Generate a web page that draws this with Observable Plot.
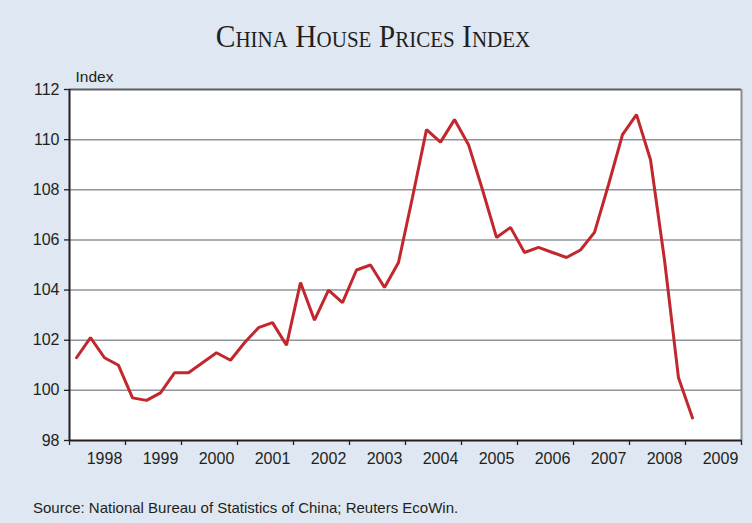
<!DOCTYPE html>
<html>
<head>
<meta charset="utf-8">
<script src="https://cdn.jsdelivr.net/npm/d3@7"></script>
<script src="https://cdn.jsdelivr.net/npm/@observablehq/plot@0.6"></script>
<style>
  html, body { margin: 0; padding: 0; background: #dfe7f2; }
  #wrap { width: 752px; height: 523px; background: #dfe7f2; position: relative; overflow: hidden; }
  #title { height: 60px; text-align: center; font-family: "Liberation Serif", "Times New Roman", serif;
           font-variant: small-caps; font-size: 29.5px; line-height: 28px; box-sizing: border-box;
           color: #231f20; padding-right: 6px; }
  #title span { position: relative; top: 22px; display: inline-block; transform: scaleY(1.05); }
  #caption { font-family: "Liberation Sans", Arial, sans-serif; font-size: 15px; color: #231f20;
             padding-left: 33px; padding-top: 19px; }
  svg { display: block; }
</style>
</head>
<body>
<div id="wrap">
  <div id="title"><span>China House Prices Index</span></div>
  <div id="chart"></div>
  <div id="caption">Source: National Bureau of Statistics of China; Reuters EcoWin.</div>
</div>
<script>
// Quarterly index, 1998 Q1 .. 2009 Q1
const startYear = 1998;
const values = [
  101.3, 102.1, 101.3, 101.0,   // 1998
  99.7, 99.6, 99.9, 100.7,      // 1999
  100.7, 101.1, 101.5, 101.2,   // 2000
  101.9, 102.5, 102.7, 101.8,   // 2001
  104.3, 102.8, 104.0, 103.5,   // 2002
  104.8, 105.0, 104.1, 105.1,   // 2003
  107.7, 110.4, 109.9, 110.8,   // 2004
  109.8, 108.0, 106.1, 106.5,   // 2005
  105.5, 105.7, 105.5, 105.3,   // 2006
  105.6, 106.3, 108.2, 110.2,   // 2007
  111.0, 109.2, 105.2, 100.5,   // 2008
  98.9                          // 2009
];
const yearTicks = [1998, 1999, 2000, 2001, 2002, 2003, 2004, 2005, 2006, 2007, 2008, 2009, 2010];
const yearLabels = [1998, 1999, 2000, 2001, 2002, 2003, 2004, 2005, 2006, 2007, 2008, 2009];
const yTicks = [98, 100, 102, 104, 106, 108, 110, 112];
const yLabel = "Index";

const data = values.map((v, i) => ({
  t: startYear + Math.floor(i / 4) + ((i % 4) + 0.5) / 4,
  v
}));

const font = "'Liberation Sans', Arial, sans-serif";

const chart = Plot.plot({
  width: 752,
  height: 420,
  marginLeft: 69,
  marginRight: 11,
  marginTop: 29,
  marginBottom: 40,
  style: { background: "transparent", fontFamily: font, fontSize: "16px", color: "#231f20", overflow: "visible" },
  x: { domain: [1998, 2010], axis: null, label: null },
  y: { domain: [98, 112], axis: null, label: null },
  marks: [
    Plot.frame({ fill: "white", stroke: "none" }),
    Plot.gridY(yTicks.filter(d => d > 98 && d < 112), { stroke: "#8f949b", strokeOpacity: 1, strokeWidth: 1.5 }),
    Plot.ruleY([112], { stroke: "#5a5d61", strokeWidth: 2 }),
    Plot.ruleX([2010], { stroke: "#8a8d92", strokeWidth: 2 }),
    Plot.axisY(yTicks, { tickSize: 5, tickPadding: 5, stroke: "#231f20", strokeWidth: 1.3, fontSize: 16, fill: "#231f20", label: null }),
    Plot.axisX(yearTicks, { tickSize: 5, tickFormat: () => "", stroke: "#231f20", strokeWidth: 1.3, label: null }),
    Plot.text(yearLabels, { x: d => d + 0.5, frameAnchor: "bottom", dy: 23, dx: 7, text: d => String(d), fontSize: 16, fill: "#231f20" }),
    Plot.text([yLabel], { frameAnchor: "top-left", dx: 6, dy: -19, textAnchor: "start", fontSize: 15.5, fill: "#231f20" }),
    Plot.line(data, { x: "t", y: "v", stroke: "#c1272d", strokeWidth: 3, strokeLinejoin: "miter" }),
    Plot.ruleX([1998], { stroke: "#231f20", strokeWidth: 2 }),
    Plot.ruleY([98], { stroke: "#231f20", strokeWidth: 2 })
  ]
});
document.getElementById("chart").appendChild(chart);
</script>
</body>
</html>
